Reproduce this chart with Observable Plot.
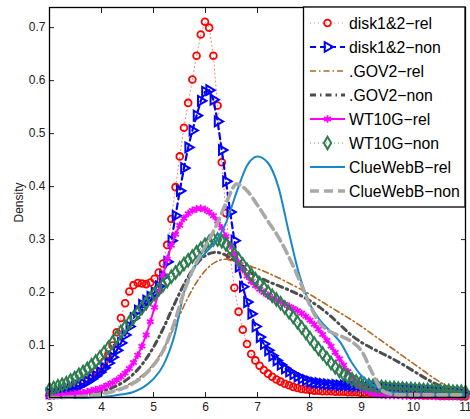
<!DOCTYPE html>
<html>
<head>
<meta charset="utf-8">
<script src="https://cdn.jsdelivr.net/npm/d3@7"></script>
<script src="https://cdn.jsdelivr.net/npm/@observablehq/plot@0.6"></script>
<style>
  html, body { margin: 0; padding: 0; background: #fff; }
  #chart { width: 470px; height: 419px; overflow: hidden; }
</style>
</head>
<body>
<div id="chart"></div>
<script>
// Kernel density estimates of document scores, per collection.
// Marker series are evaluated on a 100-point grid over [3, 11];
// line-only series on a 0.2-step grid over the same range.
const fineGrid = d3.range(100).map(i => 3 + i * 8 / 99);
const coarseGrid = d3.range(41).map(i => 3 + i * 0.2);

const seriesNames = ["disk1&2−rel", "disk1&2−non", ".GOV2−rel", ".GOV2−non",
                     "WT10G−rel", "WT10G−non", "ClueWebB−rel", "ClueWebB−non"];

const xTicks = [3, 4, 5, 6, 7, 8, 9, 10, 11];
const yTicks = [0.1, 0.2, 0.3, 0.4, 0.5, 0.6, 0.7];

// disk1&2 relevant (fine grid)
const disk12Rel = [
  0.006, 0.007, 0.009, 0.011, 0.013, 0.016, 0.020, 0.024, 0.029, 0.035,
  0.043, 0.051, 0.060, 0.070, 0.083, 0.100, 0.125, 0.152, 0.180, 0.202,
  0.214, 0.218, 0.217, 0.216, 0.219, 0.226, 0.238, 0.255, 0.290, 0.339,
  0.399, 0.457, 0.511, 0.558, 0.602, 0.647, 0.687, 0.711, 0.700, 0.647,
  0.553, 0.446, 0.350, 0.268, 0.209, 0.164, 0.130, 0.103, 0.084, 0.072,
  0.062, 0.054, 0.047, 0.041, 0.036, 0.032, 0.028, 0.025, 0.022, 0.020,
  0.018, 0.017, 0.016, 0.015, 0.015, 0.014, 0.014, 0.014, 0.013, 0.013,
  0.013, 0.012, 0.012, 0.012, 0.011, 0.011, 0.011, 0.010, 0.010, 0.010,
  0.009, 0.009, 0.009, 0.008, 0.008, 0.008, 0.007, 0.007, 0.007, 0.006,
  0.006, 0.006, 0.006, 0.005, 0.005, 0.005, 0.005, 0.005, 0.004, 0.004
];

// disk1&2 non-relevant (fine grid)
const disk12Non = [
  0.010, 0.011, 0.012, 0.014, 0.016, 0.018, 0.021, 0.024, 0.028, 0.032,
  0.037, 0.043, 0.050, 0.058, 0.067, 0.078, 0.091, 0.105, 0.120, 0.136,
  0.152, 0.166, 0.177, 0.185, 0.192, 0.200, 0.212, 0.230, 0.258, 0.298,
  0.345, 0.392, 0.435, 0.474, 0.506, 0.534, 0.562, 0.579, 0.582, 0.564,
  0.523, 0.469, 0.410, 0.352, 0.298, 0.249, 0.211, 0.182, 0.160, 0.136,
  0.116, 0.103, 0.091, 0.081, 0.072, 0.064, 0.057, 0.051, 0.046, 0.042,
  0.038, 0.035, 0.032, 0.030, 0.029, 0.028, 0.027, 0.026, 0.026, 0.025,
  0.025, 0.025, 0.024, 0.024, 0.024, 0.023, 0.023, 0.022, 0.022, 0.021,
  0.021, 0.020, 0.019, 0.019, 0.018, 0.018, 0.017, 0.017, 0.016, 0.016,
  0.015, 0.015, 0.014, 0.014, 0.013, 0.013, 0.012, 0.012, 0.011, 0.011
];

// .GOV2 relevant (coarse grid)
const gov2Rel = [
  0.002, 0.002, 0.003, 0.004, 0.006, 0.009, 0.014, 0.021, 0.031, 0.045,
  0.065, 0.095, 0.135, 0.178, 0.215, 0.242, 0.258, 0.263, 0.260, 0.252,
  0.245, 0.237, 0.228, 0.218, 0.208, 0.197, 0.185, 0.173, 0.161, 0.149,
  0.136, 0.122, 0.108, 0.094, 0.080, 0.066, 0.052, 0.038, 0.026, 0.015,
  0.008
];

// .GOV2 non-relevant (coarse grid)
const gov2Non = [
  0.002, 0.003, 0.004, 0.006, 0.009, 0.013, 0.020, 0.030, 0.045, 0.067,
  0.097, 0.135, 0.178, 0.218, 0.250, 0.270, 0.276, 0.270, 0.257, 0.242,
  0.230, 0.221, 0.213, 0.205, 0.196, 0.185, 0.172, 0.156, 0.138, 0.120,
  0.106, 0.095, 0.085, 0.075, 0.064, 0.052, 0.040, 0.029, 0.019, 0.011,
  0.006
];

// WT10G relevant (fine grid)
const wt10gRel = [
  0.005, 0.005, 0.006, 0.006, 0.007, 0.008, 0.009, 0.010, 0.011, 0.013,
  0.015, 0.017, 0.019, 0.022, 0.026, 0.030, 0.035, 0.041, 0.048, 0.057,
  0.068, 0.082, 0.099, 0.120, 0.145, 0.172, 0.202, 0.233, 0.263, 0.289,
  0.310, 0.327, 0.340, 0.349, 0.355, 0.358, 0.359, 0.357, 0.352, 0.345,
  0.335, 0.322, 0.306, 0.289, 0.272, 0.257, 0.243, 0.231, 0.221, 0.213,
  0.206, 0.200, 0.195, 0.190, 0.186, 0.182, 0.178, 0.174, 0.170, 0.166,
  0.161, 0.155, 0.148, 0.140, 0.131, 0.121, 0.110, 0.099, 0.087, 0.075,
  0.063, 0.051, 0.040, 0.031, 0.023, 0.017, 0.013, 0.010, 0.008, 0.007,
  0.006, 0.006, 0.006, 0.006, 0.005, 0.005, 0.005, 0.005, 0.005, 0.005,
  0.005, 0.005, 0.004, 0.004, 0.004, 0.004, 0.004, 0.004, 0.004, 0.004
];

// WT10G non-relevant (fine grid)
const wt10gNon = [
  0.017, 0.020, 0.023, 0.026, 0.029, 0.034, 0.039, 0.045, 0.050, 0.056,
  0.063, 0.070, 0.078, 0.087, 0.096, 0.106, 0.116, 0.126, 0.135, 0.144,
  0.153, 0.162, 0.171, 0.180, 0.189, 0.198, 0.206, 0.214, 0.222, 0.230,
  0.238, 0.246, 0.254, 0.261, 0.268, 0.276, 0.283, 0.290, 0.296, 0.300,
  0.300, 0.297, 0.291, 0.283, 0.273, 0.263, 0.253, 0.243, 0.234, 0.225,
  0.217, 0.209, 0.201, 0.194, 0.187, 0.180, 0.172, 0.163, 0.154, 0.144,
  0.134, 0.124, 0.114, 0.104, 0.094, 0.085, 0.076, 0.067, 0.059, 0.052,
  0.046, 0.041, 0.036, 0.032, 0.029, 0.027, 0.025, 0.024, 0.023, 0.022,
  0.021, 0.020, 0.020, 0.019, 0.019, 0.018, 0.018, 0.017, 0.017, 0.016,
  0.016, 0.015, 0.015, 0.015, 0.014, 0.014, 0.013, 0.013, 0.013, 0.012
];

// ClueWebB relevant (coarse grid)
const clueRel = [
  0.001, 0.001, 0.001, 0.001, 0.002, 0.003, 0.005, 0.008, 0.012, 0.021,
  0.037, 0.065, 0.118, 0.205, 0.250, 0.275, 0.297, 0.333, 0.390, 0.440,
  0.457, 0.445, 0.400, 0.315, 0.235, 0.180, 0.148, 0.127, 0.105, 0.070,
  0.043, 0.027, 0.016, 0.011, 0.009, 0.008, 0.008, 0.008, 0.008, 0.008,
  0.008
];

// ClueWebB non-relevant (coarse grid)
const clueNon = [
  0.002, 0.002, 0.003, 0.004, 0.006, 0.009, 0.013, 0.019, 0.028, 0.042,
  0.063, 0.093, 0.143, 0.205, 0.252, 0.288, 0.325, 0.370, 0.405, 0.392,
  0.365, 0.335, 0.305, 0.268, 0.225, 0.178, 0.142, 0.126, 0.118, 0.108,
  0.090, 0.050, 0.015, 0.008, 0.007, 0.007, 0.007, 0.007, 0.007, 0.007,
  0.007
];

const seriesValues = [disk12Rel, disk12Non, gov2Rel, gov2Non, wt10gRel, wt10gNon, clueRel, clueNon];
const seriesGrids  = [fineGrid, fineGrid, coarseGrid, coarseGrid, fineGrid, fineGrid, coarseGrid, coarseGrid];

// Drawing styles, one per series (same order as seriesNames)
const styles = [
  {line: "#ff7a7a", width: 1,   dash: "1,3",        marker: "circle",   color: "#ff0000", r: 3.4, mw: 1.8},
  {line: "#0000ff", width: 2.2, dash: "6,4",        marker: "triangle", color: "#0000ff", r: 3.6, mw: 2, rotate: 90},
  {line: "#b5651d", width: 1.6, dash: "6,3,1.5,3"},
  {line: "#4d4d4d", width: 3,   dash: "6,4,1.5,4"},
  {line: "#ff00ff", width: 2,   dash: null,         marker: "asterisk", color: "#ff00ff", r: 3.6, mw: 1.8},
  {line: "#5aa37c", width: 1,   dash: "1,3",        marker: "diamond",  color: "#2e7d4f", r: 3.8, mw: 2},
  {line: "#1a88c8", width: 2,   dash: null},
  {line: "#a8a8a8", width: 3.6, dash: "9,5"}
];

const tables = seriesValues.map((vals, s) =>
  vals.map((v, i) => ({x: seriesGrids[s][i], y: v, series: seriesNames[s]})));

const curveMarks = [];
tables.forEach((rows, s) => {
  const st = styles[s];
  curveMarks.push(Plot.line(rows, {
    x: "x", y: "y",
    stroke: st.line, strokeWidth: st.width,
    strokeDasharray: st.dash,
    curve: st.marker ? "linear" : "monotone-x"
  }));
  if (st.marker) {
    curveMarks.push(Plot.dot(rows, {
      x: "x", y: "y",
      symbol: st.marker, r: st.r,
      stroke: st.color, strokeWidth: st.mw, fill: "none",
      rotate: st.rotate || 0
    }));
  }
});

const chart = Plot.plot({
  width: 470,
  height: 419,
  marginLeft: 49,
  marginRight: 5,
  marginTop: 7,
  marginBottom: 22,
  style: {
    fontFamily: "'Liberation Sans', Arial, sans-serif",
    fontSize: "12px",
    color: "#222",
    background: "#fff",
    overflow: "visible"
  },
  x: {domain: [3, 11]},
  y: {domain: [0.002, 0.738]},
  marks: [
    ...curveMarks,
    // inward tick marks on all four sides
    Plot.axisX({ticks: xTicks, tickSize: -5, tickFormat: () => "", label: null, anchor: "bottom"}),
    Plot.axisX({ticks: xTicks, tickSize: -5, tickFormat: () => "", label: null, anchor: "top"}),
    Plot.axisY({ticks: yTicks, tickSize: -5, tickFormat: () => "", label: null, anchor: "left"}),
    Plot.axisY({ticks: yTicks, tickSize: -5, tickFormat: () => "", label: null, anchor: "right"}),
    // tick labels
    Plot.axisX({ticks: xTicks, tickSize: 0, tickPadding: 5, label: null, anchor: "bottom", fill: "#222"}),
    Plot.axisY({ticks: yTicks, tickSize: 0, tickPadding: 4, anchor: "left", fill: "#222",
                label: "Density", labelAnchor: "center", labelArrow: "none", labelOffset: 35}),
    Plot.frame({stroke: "#000", strokeWidth: 1.3})
  ]
});

document.getElementById("chart").appendChild(chart);

// Legend box in the upper-right corner of the axes
const symbolTypes = {
  circle: d3.symbolCircle,
  triangle: d3.symbolTriangle,
  asterisk: d3.symbolAsterisk,
  diamond: d3.symbolDiamond
};
const svg = d3.select(chart);
const legend = svg.append("g").attr("class", "legend");
legend.append("rect")
  .attr("x", 303.5).attr("y", 7).attr("width", 161.5).attr("height", 200)
  .attr("fill", "#fff").attr("stroke", "#000").attr("stroke-width", 1.3);

seriesNames.forEach((name, i) => {
  const st = styles[i];
  const cy = 23 + i * 24;
  legend.append("line")
    .attr("x1", 310).attr("x2", 345).attr("y1", cy).attr("y2", cy)
    .attr("stroke", st.line).attr("stroke-width", st.width)
    .attr("stroke-dasharray", st.dash);
  if (st.marker) {
    legend.append("path")
      .attr("d", d3.symbol(symbolTypes[st.marker], Math.PI * st.r * st.r)())
      .attr("transform", `translate(327.5,${cy}) rotate(${st.rotate || 0})`)
      .attr("fill", "none").attr("stroke", st.color).attr("stroke-width", st.mw);
  }
  legend.append("text")
    .attr("x", 349).attr("y", cy).attr("dy", "0.36em")
    .attr("text-anchor", "start")
    .attr("fill", "#000")
    .style("font-size", "15.8px")
    .text(name);
});
</script>
</body>
</html>
